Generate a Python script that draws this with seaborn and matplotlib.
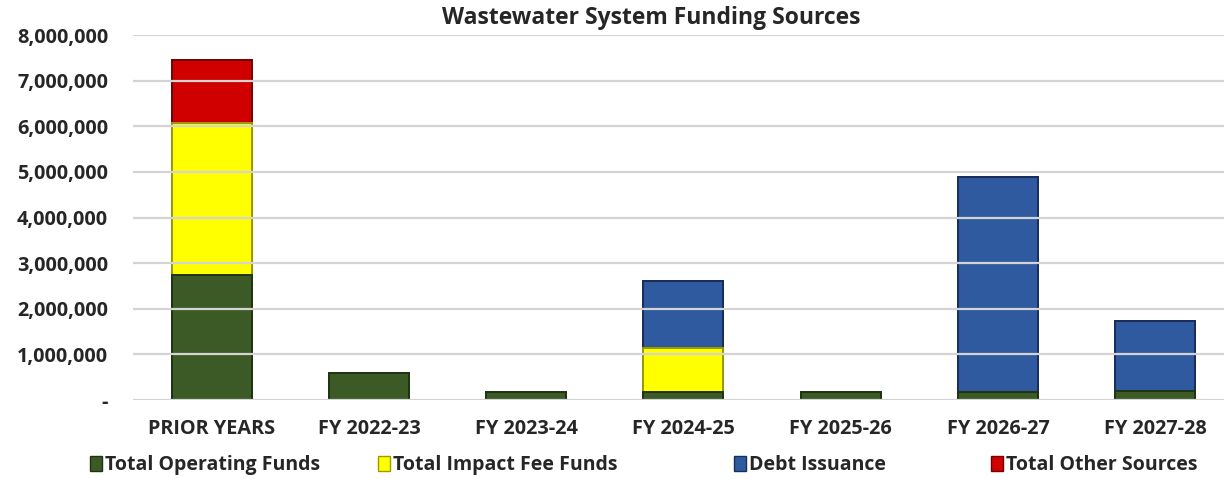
import matplotlib
matplotlib.use("Agg")
import matplotlib.pyplot as plt
import seaborn as sns
import pandas as pd
import numpy as np
from matplotlib.ticker import FuncFormatter
from matplotlib.patches import Patch

categories = ["PRIOR YEARS", "FY 2022-23", "FY 2023-24", "FY 2024-25", "FY 2025-26", "FY 2026-27", "FY 2027-28"]
operating = [2740000, 590000, 170000, 170000, 170000, 170000, 190000]
impact_fee = [3330000, 0, 0, 970000, 0, 0, 0]
debt = [0, 0, 0, 1470000, 0, 4720000, 1540000]
other = [1380000, 0, 0, 0, 0, 0, 0]

series_names = ["Total Operating Funds", "Total Impact Fee Funds", "Debt Issuance", "Total Other Sources"]
colors = ["#3c5a26", "#ffff00", "#2f5aa0", "#d00000"]
edges = ["#1f3313", "#9a9a00", "#182f5a", "#700000"]

sns.set_theme(style="white")
plt.rcParams['font.family'] = ['Open Sans', 'DejaVu Sans']

fig = plt.figure(figsize=(12.24, 4.79), dpi=100)
ax = fig.add_axes([133/1224, 1-400/479, 1 - 133/1224 + 0.008, (400-35)/479])

vals = np.array([operating, impact_fee, debt, other], dtype=float)
cum = np.cumsum(vals, axis=0)
for i in range(3, -1, -1):
    df = pd.DataFrame({"cat": categories, "val": cum[i]})
    sns.barplot(data=df, x="cat", y="val", color=colors[i], ax=ax, width=0.51,
                edgecolor=edges[i], linewidth=1.4, saturation=1)
for p in ax.patches:
    if p.get_height() <= 0:
        p.set_visible(False)

ax.set_ylim(0, 8000000)
ax.set_xlim(-0.5, 6.5)
ax.set_yticks(np.arange(0, 8000001, 1000000))
ax.yaxis.set_major_formatter(FuncFormatter(lambda v, p: "-" if v == 0 else f"{int(v):,}"))
ax.grid(axis="y", color="#d4d4d4", linewidth=1.6)
ax.set_axisbelow(False)
for s in ax.spines.values():
    s.set_visible(False)
ax.set_xlabel("")
ax.set_ylabel("")
ax.tick_params(axis="both", length=0, labelsize=14.3)
ax.tick_params(axis="y", pad=18)
ax.tick_params(axis="x", pad=14)
for lab in ax.get_xticklabels() + ax.get_yticklabels():
    lab.set_fontweight("bold")

fig.text(651/1224, 1-18/479, "Wastewater System Funding Sources", ha="center", va="center",
         fontsize=16.5, fontweight="bold")

starts = [90, 378, 734, 991]
for name, c, e, x0 in zip(series_names, colors, edges, starts):
    fig.legend([Patch(facecolor=c, edgecolor=e)], [name], loc="center left",
               bbox_to_anchor=(x0/1224, 1-465/479), frameon=False, borderaxespad=0,
               borderpad=0, handlelength=0.6, handleheight=0.8, handletextpad=0.15,
               prop={"weight": "bold", "size": 14})

fig.savefig("out.png", dpi=100)
